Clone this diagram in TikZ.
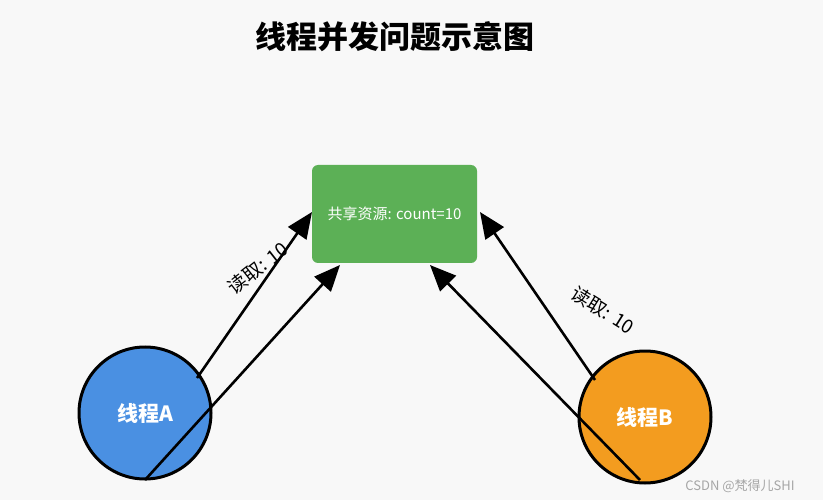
\documentclass[tikz,border=0pt]{standalone}
\usepackage{fontspec}
\setmainfont{Liberation Sans}
\newfontfamily\cjk{Noto Sans CJK SC}
\usetikzlibrary{arrows.meta}
\definecolor{bg}{HTML}{F8F8F8}
\definecolor{gr}{HTML}{5CB056}
\definecolor{bl}{HTML}{4A90E2}
\definecolor{og}{HTML}{F39C1F}
\begin{document}
\begin{tikzpicture}[x=1pt,y=-1pt,
  thread/.style={circle,draw=black,line width=3pt,minimum size=132pt,inner sep=0pt,text=white,font=\cjk\bfseries\fontsize{21}{24}\selectfont},
  arr/.style={line width=2.6pt,-{Triangle[length=26pt,width=22pt]}},
  lbl/.style={font=\cjk\fontsize{19}{21}\selectfont,inner sep=0pt}]
\fill[bg] (0,0) rectangle (823,500);
\useasboundingbox (0,0) rectangle (823,500);
\node[font=\cjk\bfseries\fontsize{31}{34}\selectfont] (title) at (395,37) {线程并发问题示意图};
\node[fill=gr,rounded corners=6pt,minimum width=165pt,minimum height=98pt,text=white,font=\cjk\fontsize{15}{17}\selectfont] (res) at (394.5,214) {共享资源: count=10};
\node[thread,fill=bl] (A) at (145,413) {线程A};
\node[thread,fill=og] (B) at (645,417) {线程B};
\coordinate (a1) at (197,378); \coordinate (a1e) at (312,212);
\coordinate (a2) at (145,480); \coordinate (a2e) at (340,265);
\coordinate (b1) at (595,380); \coordinate (b1e) at (480,212);
\coordinate (b2) at (640,480); \coordinate (b2e) at (430,265);
\draw[arr] (a1) -- (a1e);
\draw[arr] (a2) -- (a2e);
\draw[arr] (b1) -- (b1e);
\draw[arr] (b2) -- (b2e);
\node[lbl,rotate=38] (la) at (258,268) {读取: 10};
\node[lbl,rotate=-32] (lb) at (603,310) {读取: 10};
\node[text=gray!70,font=\cjk\fontsize{13}{14}\selectfont] (wm) at (740,486) {CSDN @梵得儿SHI};
\end{tikzpicture}
\end{document}
